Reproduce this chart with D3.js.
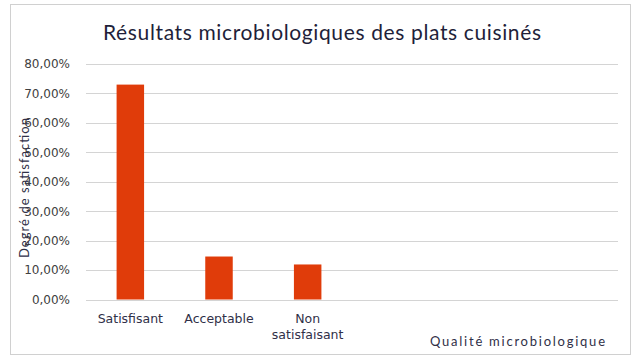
<!DOCTYPE html>
<html><head><meta charset="utf-8">
<script src="https://cdn.jsdelivr.net/npm/d3@7"></script>
<style>body{margin:0;background:#fff}svg{display:block}</style>
</head><body>
<script>
const title = "Résultats microbiologiques des plats cuisinés";
const categories = ["Satisfisant", "Acceptable", "Non satisfaisant", "c4", "c5", "c6"];
const categoryLabels = [["Satisfisant"], ["Acceptable"], ["Non", "satisfaisant"], [""], [""], [""]];
const values = [0.73, 0.146, 0.119, null, null, null];
const yTicks = [0, 0.1, 0.2, 0.3, 0.4, 0.5, 0.6, 0.7, 0.8];
const yTitle = "Degré de satisfaction";
const xTitle = "Qualité microbiologique";

const W = 639, H = 361;
const svg = d3.select("body").append("svg").attr("width", W).attr("height", H);
svg.append("rect").attr("x", 10.5).attr("y", 4.5).attr("width", 620).attr("height", 350)
  .attr("fill", "#fff").attr("stroke", "#d0d0d0");

const m = {left: 86, right: 618, top: 64, bottom: 299.5};
const x = d3.scaleBand().domain(categories).range([m.left, m.right]).paddingInner(0.69).paddingOuter(0.345);
const y = d3.scaleLinear().domain([0, 0.8]).range([m.bottom, m.top]);

svg.append("g").selectAll("line").data(yTicks).join("line")
  .attr("x1", m.left).attr("x2", m.right)
  .attr("y1", d => Math.round(y(d)) + 0.5).attr("y2", d => Math.round(y(d)) + 0.5)
  .attr("stroke", "#d4d4d4").attr("stroke-width", 1);

const fmt = d => d3.format(".2f")(d * 100).replace(".", ",") + "%";
const yAxis = d3.axisLeft(y).tickValues(yTicks).tickFormat(fmt).tickSize(0).tickPadding(16);
const ga = svg.append("g").attr("transform", `translate(${m.left},0)`).call(yAxis);
ga.select(".domain").remove();
ga.selectAll("text").attr("font-family", "DejaVu Sans").attr("font-size", 12).attr("fill", "#404040");

svg.append("g").selectAll("rect").data(categories.map((c, i) => ({c, v: values[i]})).filter(d => d.v != null))
  .join("rect")
  .attr("x", d => x(d.c)).attr("width", x.bandwidth())
  .attr("y", d => y(d.v)).attr("height", d => y(0) - y(d.v))
  .attr("fill", "#e03c0a");

const cl = svg.append("g").selectAll("text").data(categories).join("text")
  .attr("x", d => x(d) + x.bandwidth() / 2).attr("y", 323)
  .attr("text-anchor", "middle").attr("font-family", "DejaVu Sans").attr("font-size", 12.5)
  .attr("fill", "#303048");
cl.each(function(d, i) {
  const t = d3.select(this);
  categoryLabels[i].forEach((s, j) => t.append("tspan").attr("x", x(d) + x.bandwidth() / 2).attr("dy", j ? 16 : 0).text(s));
});

svg.append("text").attr("x", 322).attr("y", 40).attr("text-anchor", "middle")
  .attr("font-family", "Lato").attr("font-size", 21).attr("fill", "#1f1f3a")
  .attr("textLength", 438).text(title);

svg.append("text").attr("transform", "translate(29,188) rotate(-90)").attr("text-anchor", "middle")
  .attr("font-family", "Lato").attr("font-size", 13).attr("fill", "#303048")
  .attr("textLength", 140).text(yTitle);

svg.append("text").attr("x", 430).attr("y", 346)
  .attr("font-family", "Lato").attr("font-size", 13).attr("fill", "#303048")
  .attr("textLength", 175).text(xTitle);
</script>
</body></html>
